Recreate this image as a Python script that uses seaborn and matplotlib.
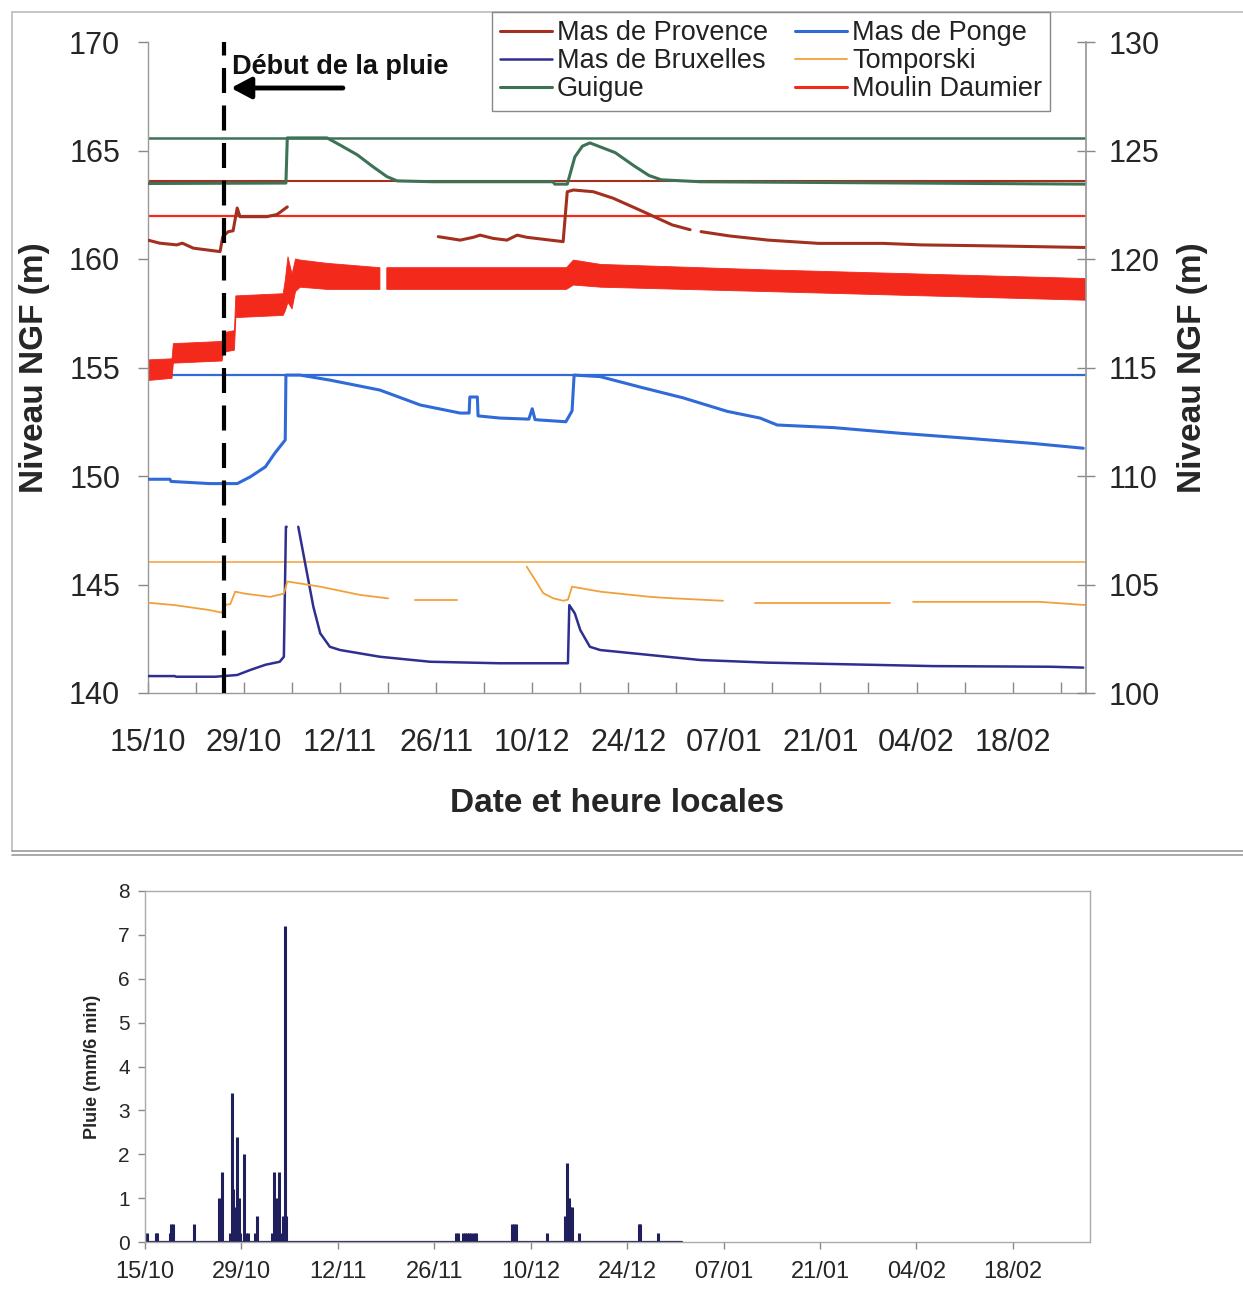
import numpy as np
import pandas as pd
import matplotlib
matplotlib.use("Agg")
import matplotlib.pyplot as plt
import seaborn as sns
from matplotlib.lines import Line2D
from matplotlib.ticker import MultipleLocator

# time axis: days since 15/10
tick_days = [0, 14, 28, 42, 56, 70, 84, 98, 112, 126]
tick_labels = ["15/10", "29/10", "12/11", "26/11", "10/12",
               "24/12", "07/01", "21/01", "04/02", "18/02"]

stations = ["Mas de Provence", "Mas de Bruxelles", "Guigue",
            "Mas de Ponge", "Tomporski", "Moulin Daumier"]
colors = ["#a3301f", "#2e2f8f", "#3e7256", "#2f6ad8", "#f2a13a", "#f2291b"]
widths = [2.2, 1.8, 2.2, 2.2, 1.3, 2.2]

# water levels (m NGF), NaN = gap in the record
provence_days = [0, 1.7, 4.2, 5.0, 6.6, 10.5, 10.9, 11.7, 12.4, 13.0, 13.4, 14.9, 17.3, 18.8, 20.3,
                 np.nan,
                 42.3, 45.5, 47.4, 48.4, 50.3, 52.3, 53.8, 55.2, 60.5, 61.1, 62.0, 64.9, 67.8, 71.7,
                 76.4, 79.0,
                 np.nan,
                 80.6, 84.8, 90.4, 97.7, 107.1, 112.7, 123.9, 136.7]
provence_lvl = [160.87, 160.73, 160.65, 160.73, 160.5, 160.34, 161.03, 161.26, 161.3, 162.35, 161.95,
                161.95, 161.95, 162.05, 162.4,
                np.nan,
                161.03, 160.87, 161.0, 161.1, 160.95, 160.87, 161.1, 161.0, 160.8, 163.1, 163.18,
                163.1, 162.8, 162.25, 161.57, 161.35,
                np.nan,
                161.26, 161.06, 160.87, 160.72, 160.72, 160.65, 160.6, 160.53]

bruxelles_days = [0, 3.9, 4.1, 9.8, 13.0, 14.9, 17.1, 19.2, 19.8, 20.1, 20.2,
                  np.nan,
                  21.9, 22.9, 24.1, 25.1, 26.5, 28.0, 33.8, 41.1, 51.3, 61.2, 61.4, 62.2, 63.0,
                  64.4, 65.9, 75.7, 80.5, 90.2, 114.4, 131.5, 136.3]
bruxelles_lvl = [140.78, 140.78, 140.75, 140.75, 140.83, 141.06, 141.3, 141.44, 141.67, 147.66, 147.66,
                 np.nan,
                 147.66, 145.98, 143.97, 142.75, 142.13, 141.98, 141.67, 141.44, 141.37, 141.37,
                 144.05, 143.67, 142.9, 142.13, 141.98, 141.67, 141.52, 141.4, 141.24, 141.21, 141.17]

guigue_days = [0, 20.1, 20.3, 26.1, 28.0, 30.5, 32.8, 34.8, 36.3, 41.5, 59.0, 59.3, 61.1, 61.5,
               62.2, 63.3, 64.4, 68.1, 70.8, 73.0, 74.8, 80.5, 136.7]
guigue_lvl = [163.48, 163.5, 165.58, 165.58, 165.25, 164.8, 164.25, 163.8, 163.6, 163.56, 163.56,
              163.45, 163.45, 163.9, 164.7, 165.2, 165.35, 164.9, 164.3, 163.85, 163.65, 163.56, 163.45]

ponge_days = [0, 3.2, 3.35, 9.0, 13.0, 14.9, 17.1, 18.5, 20.0, 20.1, 22.2, 26.5, 33.8, 39.7, 45.5,
              46.8, 46.9, 48.0, 48.1, 51.3, 55.5, 56.0, 56.4, 57.1, 60.9, 61.8, 62.1, 65.9, 71.7,
              78.0, 84.4, 89.2, 91.7, 99.9, 109.6, 119.4, 129.0, 136.3]
ponge_lvl = [149.85, 149.85, 149.75, 149.65, 149.65, 149.96, 150.42, 151.06, 151.66, 154.65, 154.65,
             154.42, 153.96, 153.27, 152.9, 152.9, 153.64, 153.64, 152.77, 152.67, 152.62, 153.1,
             152.6, 152.58, 152.5, 153.0, 154.65, 154.58, 154.1, 153.6, 152.98, 152.67, 152.35,
             152.23, 151.97, 151.74, 151.5, 151.28]

tomporski_days = [0, 3.9, 9.0, 10.8, 11.1, 12.0, 12.7, 14.1, 17.8, 19.8, 20.3, 25.1, 30.9, 35.0,
                  np.nan, 38.9, 45.0,
                  np.nan, 55.2, 56.7, 57.6, 59.0, 60.5, 61.2, 61.8, 65.9, 73.2, 76.1, 83.8,
                  np.nan, 88.5, 108.2,
                  np.nan, 111.5, 130.0, 136.7]
tomporski_lvl = [144.16, 144.05, 143.82, 143.7, 144.05, 144.1, 144.67, 144.58, 144.43, 144.58,
                 145.14, 144.9, 144.52, 144.36,
                 np.nan, 144.29, 144.29,
                 np.nan, 145.82, 145.07, 144.6, 144.37, 144.25, 144.3, 144.9, 144.67, 144.43,
                 144.37, 144.25,
                 np.nan, 144.16, 144.16,
                 np.nan, 144.2, 144.2, 144.05]

# Moulin Daumier oscillates fast: envelope of the record
daumier_days = [0, 3.5, 3.7, 10.8, 11.0, 12.6, 12.8, 19.7, 20.0, 20.4, 21.0, 21.5, 22.2, 26.1,
                33.8, np.nan, 34.8, 61.0, 62.0, 66.0, 90.0, 136.7]
daumier_low = [154.4, 154.5, 155.2, 155.3, 155.7, 155.8, 157.3, 157.4, 157.6, 158.0, 157.7, 158.5,
               158.7, 158.6, 158.6, np.nan, 158.6, 158.6, 158.8, 158.7, 158.5, 158.1]
daumier_high = [155.35, 155.4, 156.1, 156.2, 156.6, 156.7, 158.3, 158.4, 159.0, 160.1, 159.3,
                160.0, 159.95, 159.8, 159.6, np.nan, 159.6, 159.6, 159.95, 159.75, 159.5, 159.1]

# reference levels drawn as horizontal lines
ref_stations = ["Guigue", "Mas de Provence", "Moulin Daumier", "Mas de Ponge", "Tomporski"]
ref_levels = [165.58, 163.6, 162.0, 154.65, 146.05]
ref_widths = [1.8, 1.5, 1.6, 1.6, 1.1]

rain_start = 11.1
# rain (mm / 6 min)
rain_days = [0.3, 1.6, 1.8, 3.6, 3.8, 4.1, 7.1, 10.7, 10.9, 11.2, 12.3, 12.6, 12.8, 13.1, 13.4,
             13.6, 13.8, 14.4, 14.7, 14.9, 16.0, 16.2, 18.5, 18.7, 19.0, 19.4, 19.8, 20.0, 20.3,
             20.5, 45.1, 45.5, 46.1, 46.5, 46.8, 47.1, 47.4, 47.8, 48.1, 53.3, 53.6, 53.9, 58.3,
             61.0, 61.3, 61.5, 61.7, 62.0, 63.0, 71.7, 71.9, 74.5]
rain_mm = [0.2, 0.2, 0.2, 0.2, 0.4, 0.4, 0.4, 1.0, 0.4, 1.6, 0.2, 3.4, 1.2, 0.8, 2.4,
           1.0, 0.2, 2.0, 0.2, 0.2, 0.2, 0.6, 0.2, 1.6, 1.0, 1.6, 0.2, 0.6, 7.2,
           0.6, 0.2, 0.2, 0.2, 0.2, 0.2, 0.2, 0.2, 0.2, 0.2, 0.4, 0.4, 0.4, 0.2,
           0.6, 1.8, 1.0, 0.8, 0.8, 0.2, 0.4, 0.4, 0.2]
rain_end = 78.0


def to_long(name, days, vals):
    d = np.asarray(days, float)
    v = np.asarray(vals, float)
    seg = np.cumsum(np.isnan(v))
    keep = ~np.isnan(v)
    return pd.DataFrame({"station": name, "day": d[keep], "level": v[keep],
                         "seg": [f"{name}-{s}" for s in seg[keep]]})


levels = pd.concat([
    to_long("Mas de Provence", provence_days, provence_lvl),
    to_long("Mas de Bruxelles", bruxelles_days, bruxelles_lvl),
    to_long("Guigue", guigue_days, guigue_lvl),
    to_long("Mas de Ponge", ponge_days, ponge_lvl),
    to_long("Tomporski", tomporski_days, tomporski_lvl),
], ignore_index=True)

palette = dict(zip(stations, colors))
lw = dict(zip(stations, widths))

sns.set_theme(style="white")
plt.rcParams["font.family"] = ["Liberation Sans", "DejaVu Sans"]
plt.rcParams["text.color"] = "#222222"

W, H = 1243, 1307
fig = plt.figure(figsize=(W / 100, H / 100), dpi=100)


def fx(px):
    return px / W


def fy(py):
    return 1 - py / H


# ---- top panel: levels
ax = fig.add_axes([fx(148), fy(693), fx(1086) - fx(148), fy(42) - fy(693)])

for st, lev, w in zip(ref_stations, ref_levels, ref_widths):
    ax.axhline(lev, color=palette[st], lw=w, zorder=1)

ax.fill_between(daumier_days, daumier_low, daumier_high, color=palette["Moulin Daumier"],
                lw=0.6, edgecolor=palette["Moulin Daumier"], zorder=2)

sns.lineplot(data=levels, x="day", y="level", hue="station", size="station",
             palette=palette, sizes={k: lw[k] for k in levels["station"].unique()},
             units="seg", estimator=None, sort=False, legend=False, ax=ax, zorder=3)

ax.axvline(rain_start, color="black", lw=3, ls=(0, (6, 3)), zorder=4)
ax.text(rain_start + 1.2, 168.85, "Début de la pluie", fontsize=19.5, fontweight="bold",
        va="center", ha="left", color="#111111")
ax.annotate("", xy=(rain_start + 1.0, 167.88), xytext=(rain_start + 17.3, 167.88),
            arrowprops=dict(arrowstyle="-|>,head_length=0.6,head_width=0.32",
                            lw=3.5, color="black", mutation_scale=20,
                            shrinkA=0, shrinkB=0))

ax.set_xlim(0, 136.7)
ax.set_ylim(140, 170)
ax.set_yticks(range(140, 171, 5))
ax.set_xticks(tick_days)
ax.set_xticklabels(tick_labels)
ax.xaxis.set_minor_locator(MultipleLocator(7))
ax.tick_params(axis="x", which="both", direction="in", length=8, width=1, color="#888888",
               labelsize=22, pad=25, bottom=True)
ax.tick_params(axis="y", direction="out", length=7, width=1, color="#888888",
               labelsize=22, pad=13, left=True)
ax.set_xlabel("Date et heure locales", fontsize=24, fontweight="bold", labelpad=22)
ax.set_ylabel("Niveau NGF (m)", fontsize=24, fontweight="bold", labelpad=14)
for side in ["left", "bottom"]:
    ax.spines[side].set_color("#999999")
    ax.spines[side].set_linewidth(1)
ax.spines["top"].set_visible(False)
ax.spines["right"].set_visible(False)

ax2 = ax.twinx()
ax2.set_ylim(100, 130)
ax2.set_yticks(range(100, 131, 5))
ax2.tick_params(axis="y", direction="inout", length=13, width=1, color="#888888",
                labelsize=22, pad=10, right=True)
ax2.set_ylabel("Niveau NGF (m)", fontsize=24, fontweight="bold", labelpad=12)
ax2.spines["right"].set_color("#999999")
for side in ["left", "top", "bottom"]:
    ax2.spines[side].set_visible(False)

handles = [Line2D([], [], color=palette[s], lw=lw[s]) for s in stations]
fig.legend(handles, stations, loc="upper left", bbox_to_anchor=(fx(492), fy(12)),
           bbox_transform=fig.transFigure, ncol=2, fontsize=19.5, frameon=True,
           fancybox=False, framealpha=1, edgecolor="#888888", borderpad=0.3,
           labelspacing=0.08, handlelength=1.9, handletextpad=0.2, columnspacing=1.0,
           borderaxespad=0)

# ---- bottom panel: rain
ax3 = fig.add_axes([fx(145), fy(1242), fx(1090) - fx(145), fy(891) - fy(1242)])
ax3.vlines(rain_days, 0, rain_mm, color="#1f1f5e", lw=2.2)
ax3.plot([0, rain_end], [0, 0], color="#1f1f5e", lw=1.6)
ax3.set_xlim(0, 137.2)
ax3.set_ylim(0, 8)
ax3.set_yticks(range(0, 9))
ax3.set_xticks(tick_days)
ax3.set_xticklabels(tick_labels)
ax3.tick_params(axis="x", direction="out", length=5, width=1, color="#888888",
                labelsize=17, pad=9, bottom=True)
ax3.tick_params(axis="y", direction="out", length=5, width=1, color="#888888",
                labelsize=15, pad=6, left=True)
ax3.set_ylabel("Pluie (mm/6 min)", fontsize=13, fontweight="bold", labelpad=12)
for side in ax3.spines:
    ax3.spines[side].set_color("#aaaaaa")
    ax3.spines[side].set_linewidth(1)

# ---- page frame
frame = "#bbbbbb"
fig.add_artist(Line2D([fx(12), fx(12)], [fy(12), fy(851)], color=frame, lw=1.2))
fig.add_artist(Line2D([fx(12), 1], [fy(12), fy(12)], color=frame, lw=1.2))
fig.add_artist(Line2D([fx(12), 1], [fy(851), fy(851)], color="#999999", lw=1.2))
fig.add_artist(Line2D([fx(12), 1], [fy(855), fy(855)], color="#999999", lw=1.2))

fig.savefig("out.png", dpi=100, facecolor="white")
